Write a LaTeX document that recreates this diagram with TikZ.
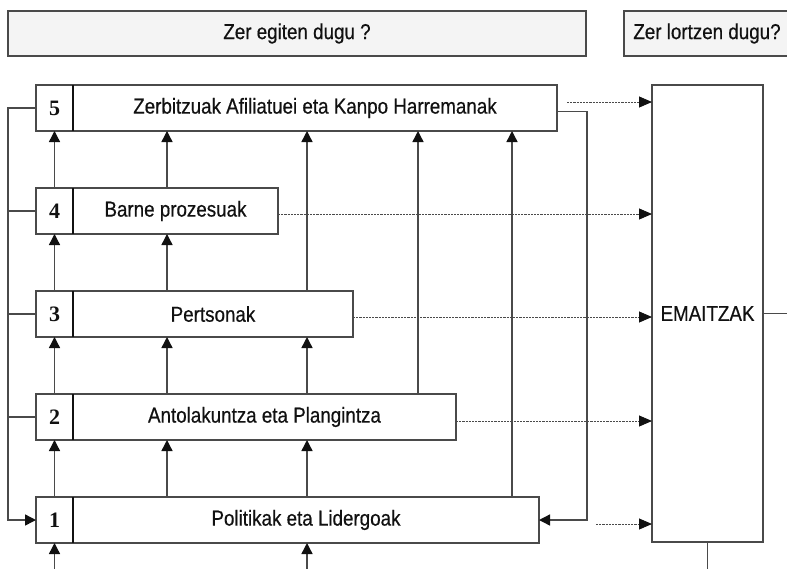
\documentclass[tikz,border=0pt]{standalone}
\usepackage{fontspec}
\setmainfont{Liberation Sans}[FakeStretch=0.87,FakeBold=0.5]
\newfontfamily\numfont{Liberation Serif}
\usetikzlibrary{arrows.meta}
\definecolor{linegray}{HTML}{4A4A4A}
\definecolor{inkgray}{HTML}{111111}
\definecolor{headfill}{HTML}{F4F4F4}
\begin{document}
\begin{tikzpicture}[x=1pt,y=-1pt,
  frame/.style={draw=linegray, line width=1.4pt, inner sep=0pt, outer sep=0pt,
    text=inkgray, font=\fontsize{21.6}{23}\selectfont},
  headbox/.style={frame, fill=headfill, minimum height=45pt},
  numcell/.style={frame, anchor=north west, minimum width=37pt, minimum height=46pt,
    font=\fontsize{22}{24}\selectfont\numfont\bfseries},
  labelcell/.style={frame, anchor=north west, minimum height=46pt},
  link/.style={draw=linegray, line width=1.4pt},
  arr/.style={link, -{Triangle[length=11pt,width=11pt,fill=inkgray,color=inkgray]}},
  dotarr/.style={draw=linegray, line width=0.9pt, dash pattern=on 2.2pt off 1pt,
    -{Triangle[length=13pt,width=11pt,fill=inkgray,color=inkgray]}},
  divider/.style={draw=inkgray, line width=2.4pt}
]
\useasboundingbox (0,0) rectangle (787,568);
\clip (0,0) rectangle (787,568);

% column guides for the vertical links
\coordinate (cL) at (8,0);
\coordinate (cB) at (167,0);
\coordinate (cC) at (307,0);
\coordinate (cD) at (418,0);
\coordinate (cE) at (512,0);
\coordinate (cR) at (587,0);
\coordinate (bottom) at (0,575);
\coordinate (rightedge) at (795,0);

% headers
\node[headbox, anchor=north west, minimum width=578pt] (h1) at (8,11) {Zer egiten dugu ?};
\node[headbox, anchor=north west, minimum width=166pt] (h2) at (624,11) {Zer lortzen dugu?};

% stages
\node[numcell] (n5) at (36,85) {5};
\node[labelcell, minimum width=484pt] (t5) at (73,85) {Zerbitzuak Afiliatuei eta Kanpo Harremanak};
\node[numcell] (n4) at (36,188) {4};
\node[labelcell, minimum width=205pt] (t4) at (73,188) {Barne prozesuak};
\node[numcell] (n3) at (36,291) {3};
\node[labelcell, minimum width=280pt] (t3) at (73,291) {Pertsonak};
\node[numcell] (n2) at (36,394) {2};
\node[labelcell, minimum width=383pt] (t2) at (73,394) {Antolakuntza eta Plangintza};
\node[numcell] (n1) at (36,497) {1};
\node[labelcell, minimum width=466pt] (t1) at (73,497) {Politikak eta Lidergoak};

\foreach \s in {1,...,5}{
  \draw[divider] (n\s.north east) -- (n\s.south east);
}

% results
\node[frame, anchor=north west, minimum width=111pt, minimum height=457pt] (res) at (652,85) {EMAITZAK};

% column A (number cells)
\draw[arr] (n4.north) -- (n5.south);
\draw[arr] (n3.north) -- (n4.south);
\draw[arr] (n2.north) -- (n3.south);
\draw[arr] (n1.north) -- (n2.south);
\draw[arr] (n1.south |- bottom) -- (n1.south);

% column B
\draw[arr] (t4.north -| cB) -- (t5.south -| cB);
\draw[arr] (t3.north -| cB) -- (t4.south -| cB);
\draw[arr] (t2.north -| cB) -- (t3.south -| cB);
\draw[arr] (t1.north -| cB) -- (t2.south -| cB);

% column C
\draw[arr] (t3.north -| cC) -- (t5.south -| cC);
\draw[arr] (t2.north -| cC) -- (t3.south -| cC);
\draw[arr] (t1.north -| cC) -- (t2.south -| cC);
\draw[arr] (cC |- bottom) -- (t1.south -| cC);

% columns D and E
\draw[arr] (t2.north -| cD) -- (t5.south -| cD);
\draw[arr] (t1.north -| cE) -- (t5.south -| cE);

% left feedback loop
\draw[arr] (n5.west) -| (cL |- n1.west) -- (n1.west);
\draw[link] (n4.west) -- (n4.west -| cL);
\draw[link] (n3.west) -- (n3.west -| cL);
\draw[link] (n2.west) -- (n2.west -| cL);

% right feedback loop
\coordinate (r5) at ([yshift=-3.5pt]t5.east);
\draw[arr] (r5) -| (cR |- t1.east) -- (t1.east);

% dotted links to the results
\coordinate (d5) at ([xshift=10pt,yshift=6pt]t5.east);
\coordinate (d4) at ([yshift=-3pt]t4.east);
\coordinate (d3) at ([yshift=-3pt]t3.east);
\coordinate (d2) at ([yshift=-4pt]t2.east);
\coordinate (d1) at ([xshift=57pt,yshift=-4pt]t1.east);
\foreach \d in {d5,d4,d3,d2,d1}{
  \draw[dotarr] (\d) -- (\d -| res.west);
}

% results outputs
\draw[link] (res.east) -- (res.east -| rightedge);
\draw[link] (res.south) -- (res.south |- bottom);
\end{tikzpicture}
\end{document}
